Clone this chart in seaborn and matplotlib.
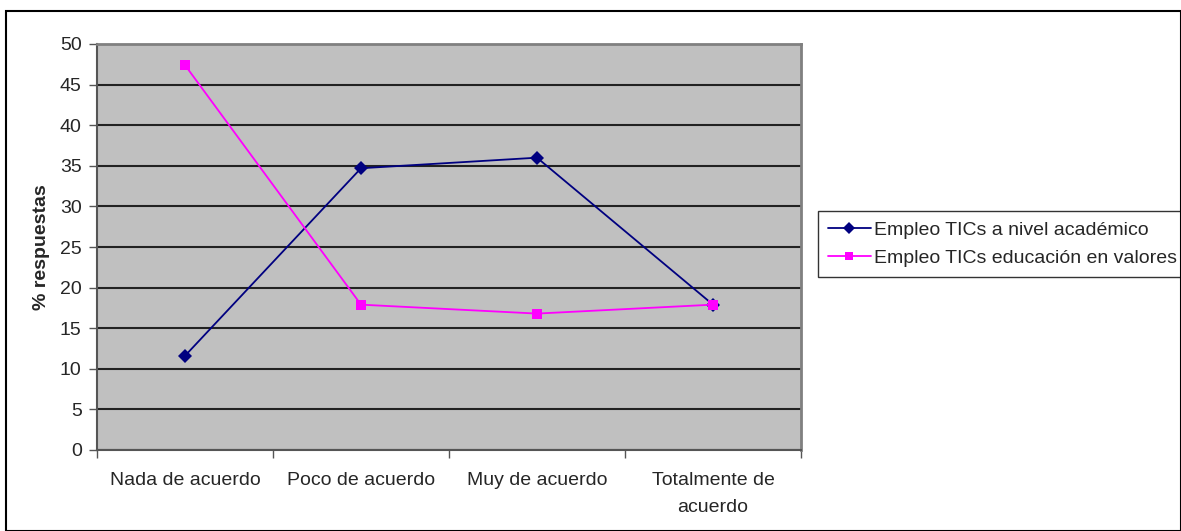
import numpy as np
import pandas as pd
import seaborn as sns
import matplotlib.pyplot as plt
from matplotlib.patches import Rectangle

categorias = ["Nada de acuerdo", "Poco de acuerdo", "Muy de acuerdo", "Totalmente de\nacuerdo"]
academico = [11.6, 34.7, 36.0, 17.9]
valores = [47.4, 17.9, 16.8, 17.9]
series = ["Empleo TICs a nivel académico", "Empleo TICs educación en valores"]

df = pd.DataFrame({
    "pos": list(range(4)) * 2,
    "pct": academico + valores,
    "serie": [series[0]] * 4 + [series[1]] * 4,
})

sns.set_theme(style="white")
plt.rcParams["font.family"] = ["Liberation Sans", "DejaVu Sans"]

fig = plt.figure(figsize=(11.81, 5.31), dpi=100)
ax = fig.add_axes([97 / 1181, 81 / 531, 704 / 1181, 406 / 531])
ax.set_facecolor("#C0C0C0")

sns.lineplot(
    data=df, x="pos", y="pct", hue="serie", style="serie",
    palette=["#000080", "#FF00FF"], markers=["D", "s"], dashes=False,
    markersize=7, linewidth=1.3, markeredgewidth=0, ax=ax, zorder=5,
)

ax.set_xlim(-0.5, 3.5)
ax.set_ylim(0, 50)
ax.set_yticks(np.arange(0, 51, 5))
ax.yaxis.grid(True, color="#222222", linewidth=1.5)
ax.set_axisbelow(True)

# category boundaries as major ticks, labels on minor ticks
ax.set_xticks([-0.5, 0.5, 1.5, 2.5, 3.5])
ax.set_xticklabels([])
ax.set_xticks(range(4), minor=True)
ax.set_xticklabels(categorias, minor=True, fontsize=14, linespacing=1.75)
ax.tick_params(axis="x", which="minor", length=0, pad=16)
ax.tick_params(axis="x", which="major", length=6, width=1, color="#555555", direction="out", bottom=True)
ax.tick_params(axis="y", length=6, width=1, color="#555555", direction="out", left=True, labelsize=14, pad=5)

for s in ["left", "bottom"]:
    ax.spines[s].set_color("#555555")
    ax.spines[s].set_linewidth(1.5)
for s in ["top", "right"]:
    ax.spines[s].set_color("#808080")
    ax.spines[s].set_linewidth(2)

ax.set_xlabel("")
ax.set_ylabel("% respuestas", fontsize=14, fontweight="bold", labelpad=7)

leg = ax.legend(
    loc="center left", bbox_to_anchor=(818 / 1181, (531 - 244) / 531),
    bbox_transform=fig.transFigure, frameon=True, fancybox=False,
    fontsize=14, handlelength=2.2, borderpad=0.5, labelspacing=0.55,
    handletextpad=0.2, borderaxespad=0, markerscale=0.9,
)
leg.get_frame().set_edgecolor("black")
leg.get_frame().set_linewidth(1)

fig.patches.append(Rectangle((6 / 1181, 0), 1 - 6 / 1181, 1 - 11 / 531,
                             transform=fig.transFigure, fill=False,
                             edgecolor="black", linewidth=1.5))

fig.savefig("out.png", dpi=100)
